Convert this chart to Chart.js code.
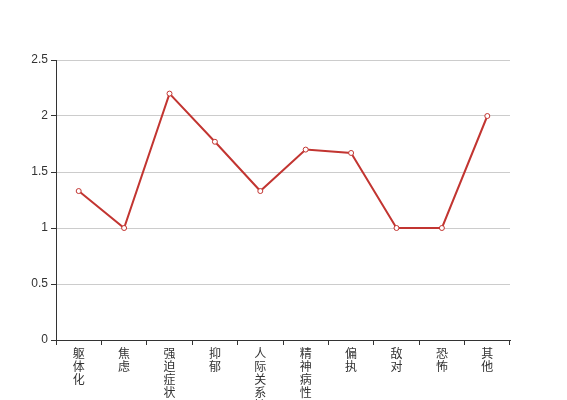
<!DOCTYPE html>
<html>
<head>
<meta charset="utf-8">
<script src="https://cdn.jsdelivr.net/npm/chart.js@4/dist/chart.umd.min.js"></script>
<style>
  html, body { margin: 0; padding: 0; background: #fff; }
  #wrap { width: 567px; height: 400px; }
</style>
</head>
<body>
<div id="wrap"><canvas id="chart" width="567" height="400"></canvas></div>
<script>
// Chart data
const categories = ['躯体化', '焦虑', '强迫症状', '抑郁', '人际关系敏感', '精神病性', '偏执', '敌对', '恐怖', '其他'];
const scores = [1.33, 1, 2.2, 1.77, 1.33, 1.7, 1.67, 1, 1, 2];
const yTicks = [0, 0.5, 1, 1.5, 2, 2.5];

// vertical labels: one character per line
const verticalLabels = categories.map(c => c.split(''));

const ctx = document.getElementById('chart').getContext('2d');

new Chart(ctx, {
    type: 'line',
    data: {
        labels: verticalLabels,
        datasets: [{
            data: scores,
            borderColor: '#c23531',
            borderWidth: 2,
            backgroundColor: '#ffffff',
            pointBackgroundColor: '#ffffff',
            pointBorderColor: '#c23531',
            pointBorderWidth: 1,
            pointRadius: 2.5,
            tension: 0,
            fill: false
        }]
    },
    options: {
        responsive: false,
        animation: false,
        layout: {
            padding: { top: 60, right: 57, left: 0, bottom: 0 }
        },
        plugins: {
            legend: { display: false },
            tooltip: { enabled: false }
        },
        scales: {
            x: {
                offset: true,
                afterFit: function(scale) { scale.height = 60; },
                grid: {
                    offset: true,
                    drawOnChartArea: false,
                    color: '#333',
                    tickLength: 5
                },
                border: { color: '#333', width: 1 },
                ticks: {
                    autoSkip: false,
                    maxRotation: 0,
                    padding: 2,
                    color: '#333',
                    font: { family: '"Noto Sans CJK SC", sans-serif', size: 12, lineHeight: 1.08 }
                }
            },
            y: {
                min: 0,
                max: 2.5,
                afterFit: function(scale) { scale.width = 56; },
                afterBuildTicks: function(scale) {
                    scale.ticks = yTicks.map(v => ({ value: v }));
                },
                grid: {
                    color: '#cccccc',
                    tickColor: '#333',
                    tickLength: 5
                },
                border: { color: '#333', width: 1 },
                ticks: {
                    padding: 3,
                    color: '#333',
                    font: { family: '"Liberation Sans", Arial, sans-serif', size: 12 },
                    callback: function(value) { return String(value); }
                }
            }
        }
    }
});
</script>
</body>
</html>
